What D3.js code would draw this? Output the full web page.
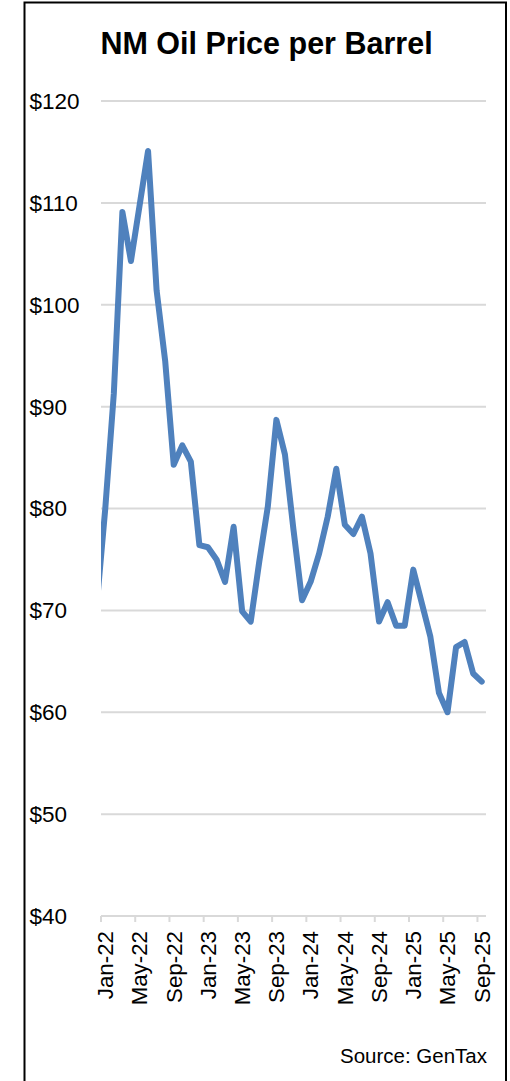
<!DOCTYPE html>
<html><head><meta charset="utf-8">
<script src="https://cdn.jsdelivr.net/npm/d3@7"></script>
<style>body{margin:0;background:#fff}svg{display:block}</style>
</head><body>
<script>
// ---- data ----
const months = ["Jan-22","Feb-22","Mar-22","Apr-22","May-22","Jun-22","Jul-22","Aug-22","Sep-22","Oct-22","Nov-22","Dec-22",
"Jan-23","Feb-23","Mar-23","Apr-23","May-23","Jun-23","Jul-23","Aug-23","Sep-23","Oct-23","Nov-23","Dec-23",
"Jan-24","Feb-24","Mar-24","Apr-24","May-24","Jun-24","Jul-24","Aug-24","Sep-24","Oct-24","Nov-24","Dec-24",
"Jan-25","Feb-25","Mar-25","Apr-25","May-25","Jun-25","Jul-25","Aug-25","Sep-25"];
const prices = [80.0,91.3,109.1,104.3,109.7,115.1,101.4,94.5,84.3,86.2,84.6,76.4,
76.2,75.0,72.8,78.2,69.9,68.9,74.8,80.2,88.7,85.3,77.9,71.0,
72.8,75.6,79.2,83.9,78.4,77.5,79.2,75.6,68.9,70.8,68.5,68.5,
74.0,70.7,67.4,61.9,60.0,66.4,66.9,63.8,63.0];
const priorMonth = "Dec-21";   // leading value, clipped at the plot edge
const priorPrice = 70.5;
const yTicks = [40,50,60,70,80,90,100,110,120];
const tickLabels = months.filter((d,i)=>i%4===0);
const title = "NM Oil Price per Barrel";
const source = "Source: GenTax";

// ---- layout ----
const W=510,H=1081;
const plot = {left:101,right:486,top:101,bottom:916};
const font = "'Liberation Sans', Arial, sans-serif";

const svg = d3.select("body").append("svg").attr("width",W).attr("height",H);
svg.append("rect").attr("x",24.5).attr("y",2.5).attr("width",481.5).attr("height",H+20)
  .attr("fill","#fff").attr("stroke","#000").attr("stroke-width",2);

const x = d3.scaleLinear().domain([-0.5, months.length-0.5]).range([plot.left, plot.right]);
const y = d3.scaleLinear().domain([40,120]).range([plot.bottom, plot.top]);

svg.append("text").attr("x",266.5).attr("y",54).attr("text-anchor","middle")
  .attr("font-family",font).attr("font-weight","bold").attr("font-size",30.5).attr("fill","#000").text(title);

// gridlines
svg.append("g").selectAll("line").data(yTicks).join("line")
  .attr("x1",plot.left).attr("x2",plot.right).attr("y1",d=>y(d)).attr("y2",d=>y(d))
  .attr("stroke","#d9d9d9").attr("stroke-width",2);
// y labels
svg.append("g").selectAll("text").data(yTicks).join("text")
  .attr("x",29.5).attr("y",d=>y(d)).attr("dy","0.35em")
  .attr("font-family",font).attr("font-size",22.5).attr("fill","#000")
  .text(d=>"$"+d);

// x ticks at category boundaries
svg.append("g").selectAll("line").data(tickLabels).join("line")
  .attr("x1",d=>x(months.indexOf(d)-0.5)).attr("x2",d=>x(months.indexOf(d)-0.5))
  .attr("y1",plot.bottom).attr("y2",plot.bottom+6)
  .attr("stroke","#d9d9d9").attr("stroke-width",2);
// x labels
svg.append("g").selectAll("text").data(tickLabels).join("text")
  .attr("transform",d=>`translate(${x(months.indexOf(d))},931) rotate(-90)`)
  .attr("text-anchor","end").attr("dy","0.35em")
  .attr("font-family",font).attr("font-size",22.3).attr("fill","#000")
  .text(d=>d);

// line
svg.append("clipPath").attr("id","clip").append("rect")
  .attr("x",plot.left).attr("y",0).attr("width",plot.right-plot.left).attr("height",H);
const series = [{i:-1,v:priorPrice}].concat(prices.map((v,i)=>({i,v})));
svg.append("path").datum(series).attr("clip-path","url(#clip)")
  .attr("fill","none").attr("stroke","#4f81bd").attr("stroke-width",6)
  .attr("stroke-linejoin","round").attr("stroke-linecap","round")
  .attr("d",d3.line().x(d=>x(d.i)).y(d=>y(d.v)));

svg.append("text").attr("x",487).attr("y",1063).attr("text-anchor","end")
  .attr("font-family",font).attr("font-size",20.5).attr("fill","#000").text(source);
</script>
</body></html>
